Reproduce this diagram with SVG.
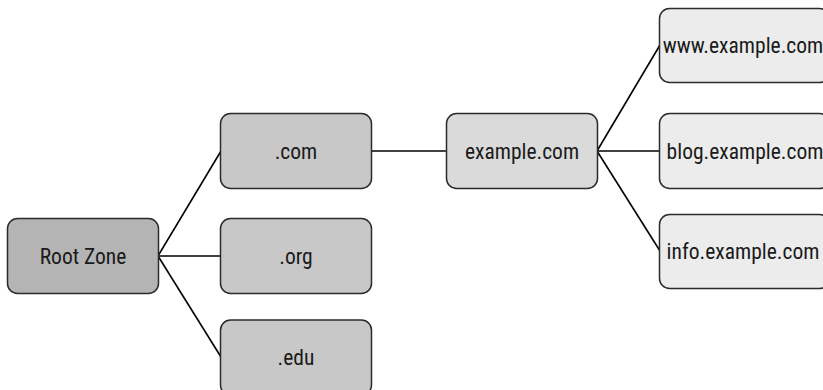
<svg xmlns="http://www.w3.org/2000/svg" width="823" height="390" viewBox="0 0 823 390">
<style>
.n rect{stroke:#2b2b2b;stroke-width:1.5}
.n text{font-family:Roboto,"Liberation Sans",sans-serif;font-stretch:condensed;font-size:21.5px;fill:#1a1a1a;text-anchor:middle;dominant-baseline:central}
.l0 rect{fill:#b4b4b4}
.l1 rect{fill:#c8c8c8}
.l2 rect{fill:#dadada}
.l3 rect{fill:#ececec}
#connectors line{stroke:#000;stroke-width:1.6}
</style>
<rect width="823" height="390" fill="#fff"/>
<g id="connectors">
<line x1="158" y1="256" x2="221" y2="151"/>
<line x1="158" y1="256" x2="221" y2="256"/>
<line x1="158" y1="256" x2="221" y2="357"/>
<line x1="371" y1="151" x2="447" y2="151"/>
<line x1="597" y1="151" x2="660" y2="45"/>
<line x1="597" y1="151" x2="660" y2="151"/>
<line x1="597" y1="151" x2="660" y2="251"/>
</g>
<g id="root" class="n l0"><rect x="7.5" y="218.5" width="151" height="75" rx="10"/><text x="83" y="256">Root Zone</text></g>
<g id="com" class="n l1"><rect x="220.5" y="113.5" width="151" height="75" rx="10"/><text x="296" y="151">.com</text></g>
<g id="org" class="n l1"><rect x="220.5" y="218.5" width="151" height="75" rx="10"/><text x="296" y="256">.org</text></g>
<g id="edu" class="n l1"><rect x="220.5" y="320" width="151" height="75" rx="10"/><text x="296" y="357">.edu</text></g>
<g id="example" class="n l2"><rect x="446.5" y="113.5" width="151" height="75" rx="10"/><text x="522" y="151">example.com</text></g>
<g id="www" class="n l3"><rect x="659.5" y="8.5" width="170" height="74" rx="10"/><text x="743" y="45">www.example.com</text></g>
<g id="blog" class="n l3"><rect x="659.5" y="113.5" width="170" height="75" rx="10"/><text x="745" y="151">blog.example.com</text></g>
<g id="info" class="n l3"><rect x="659.5" y="214.5" width="170" height="74" rx="10"/><text x="743" y="251">info.example.com</text></g>
</svg>
